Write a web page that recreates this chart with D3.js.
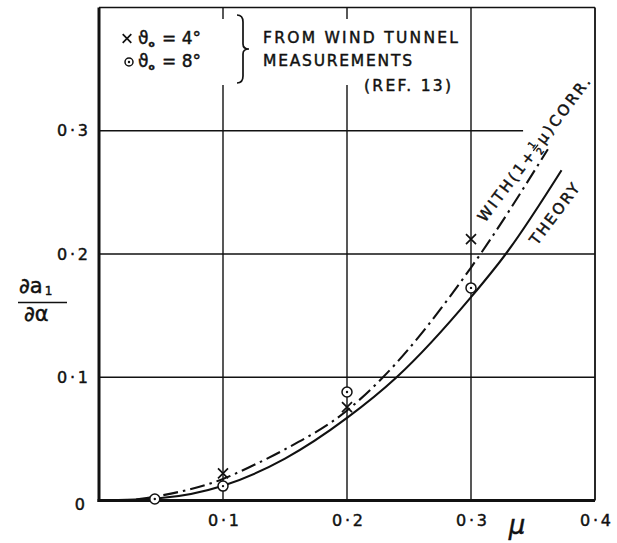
<!DOCTYPE html>
<html>
<head>
<meta charset="utf-8">
<script src="https://cdn.jsdelivr.net/npm/d3@7"></script>
<style>
  html, body { margin: 0; padding: 0; background: #fff; }
  svg { display: block; }
  text { font-family: "DejaVu Sans", sans-serif; fill: #111; stroke: #111; stroke-width: 0.45px; }
</style>
</head>
<body>
<script>
// ∂a1/∂α against μ: theory, theory with (1 + ½μ) correction, and wind tunnel points.
const muTheory  = [0, 0.05, 0.1, 0.15, 0.2, 0.24, 0.3, 0.328, 0.373];
const valTheory = [0, 0.002, 0.012, 0.034, 0.067, 0.1, 0.165, 0.2, 0.268];

const muCorr  = [0.03, 0.05, 0.1, 0.122, 0.149, 0.2, 0.229, 0.3, 0.362];
const valCorr = [0.0008, 0.004, 0.0175, 0.0274, 0.041, 0.073, 0.1, 0.189, 0.285];

// ϑ0 = 4° (crosses) and ϑ0 = 8° (circled dots)
const muCross4  = [0.1, 0.2, 0.3];
const valCross4 = [0.022, 0.0757, 0.212];
const muCircle8  = [0.045, 0.1, 0.2, 0.3];
const valCircle8 = [0.0012, 0.0117, 0.088, 0.1725];

const xTicks = [0.1, 0.2, 0.3, 0.4];
const yTicks = [0, 0.1, 0.2, 0.3];
const xGrid = [0.1, 0.2, 0.3];
const yGrid = [0.1, 0.2, 0.3];

const legendRows = ["4°", "8°"];
const sourceLines = ["FROM  WIND TUNNEL", "MEASUREMENTS", "(REF. 13)"];

const W = 617, H = 543;
const ink = "#111";

const svg = d3.select("body").append("svg").attr("width", W).attr("height", H);
svg.append("rect").attr("width", W).attr("height", H).attr("fill", "#fff");

const x = d3.scaleLinear().domain([0, 0.4]).range([99, 595]);
const y = d3.scaleLinear().domain([0, 0.4]).range([500.5, 7.5]);

const fmt = d => d === 0 ? "0" : d3.format(".1f")(d).replace(".", "·");

// grid
const grid = svg.append("g").attr("stroke", ink).attr("stroke-width", 1.4);
grid.selectAll("line.v").data(xGrid).join("line").attr("class", "v")
  .attr("x1", d => x(d)).attr("x2", d => x(d))
  .attr("y1", y(0)).attr("y2", y(0.4));
grid.selectAll("line.h").data(yGrid).join("line").attr("class", "h")
  .attr("x1", x(0))
  .attr("x2", d => x(d === 0.3 ? 0.342 : 0.4))
  .attr("y1", d => y(d)).attr("y2", d => y(d));

// frame
const frame = svg.append("g").attr("stroke", ink).attr("fill", "none");
frame.append("line").attr("x1", x(0)).attr("x2", x(0.4)).attr("y1", y(0.4)).attr("y2", y(0.4)).attr("stroke-width", 1.5);
frame.append("line").attr("x1", x(0.4)).attr("x2", x(0.4)).attr("y1", y(0.4)).attr("y2", y(0)).attr("stroke-width", 1.8);
frame.append("line").attr("x1", x(0)).attr("x2", x(0)).attr("y1", y(0.4)).attr("y2", y(0) + 1.5).attr("stroke-width", 3);
frame.append("line").attr("x1", x(0) - 1.5).attr("x2", x(0.4)).attr("y1", y(0)).attr("y2", y(0)).attr("stroke-width", 3);

// legend panel clears the grid behind the key
svg.append("rect").attr("x", 106).attr("y", 19).attr("width", 356).attr("height", 66).attr("fill", "#fff");

// marker shapes
function drawCross(sel, cx, cy, s) {
  sel.append("path")
    .attr("d", `M${cx - s},${cy - s}L${cx + s},${cy + s}M${cx + s},${cy - s}L${cx - s},${cy + s}`)
    .attr("stroke", ink).attr("stroke-width", 1.7).attr("fill", "none");
}
function drawCircleDot(sel, cx, cy, r) {
  sel.append("circle").attr("cx", cx).attr("cy", cy).attr("r", r)
    .attr("stroke", ink).attr("stroke-width", 1.5).attr("fill", "#fff");
  sel.append("circle").attr("cx", cx).attr("cy", cy).attr("r", 1.2).attr("fill", ink);
}

// curves
const line = d3.line().x(d => x(d[0])).y(d => y(d[1])).curve(d3.curveMonotoneX);
svg.append("path").datum(d3.zip(muTheory, valTheory)).attr("d", line)
  .attr("fill", "none").attr("stroke", ink).attr("stroke-width", 2.1);
svg.append("path").datum(d3.zip(muCorr, valCorr)).attr("d", line)
  .attr("fill", "none").attr("stroke", ink).attr("stroke-width", 2.1)
  .attr("stroke-dasharray", "15,5,2.5,5");

// points
const pts = svg.append("g");
d3.zip(muCircle8, valCircle8).forEach(([m, v]) => drawCircleDot(pts, x(m), y(v), 5));
d3.zip(muCross4, valCross4).forEach(([m, v]) => drawCross(pts, x(m), y(v), 5));

// axes
const yAxis = svg.append("g").attr("transform", `translate(${x(0)},0)`)
  .call(d3.axisLeft(y).tickValues(yTicks).tickFormat(fmt).tickSize(0).tickPadding(11));
const xAxis = svg.append("g").attr("transform", `translate(0,${y(0)})`)
  .call(d3.axisBottom(x).tickValues(xTicks).tickFormat(fmt).tickSize(0).tickPadding(14));
[yAxis, xAxis].forEach(a => {
  a.select(".domain").remove();
  a.selectAll("text").attr("font-family", "DejaVu Sans, sans-serif").attr("font-size", 16).attr("fill", ink)
    .each(function (d) {
      if (d !== 0) d3.select(this).attr("textLength", 31).attr("lengthAdjust", "spacing");
    });
});
yAxis.selectAll("text").filter(d => d === 0).attr("x", -14).attr("dy", "0.55em");

// axis titles
svg.append("text").attr("x", 517).attr("y", 534).attr("text-anchor", "middle")
  .attr("font-size", 26).attr("font-style", "italic").text("μ");

const yl = svg.append("g");
const num = yl.append("text").attr("x", 19).attr("y", 293).attr("font-size", 21);
num.append("tspan").text("∂a");
num.append("tspan").attr("font-size", 12).attr("dx", 2).attr("dy", 2).text("1");
yl.append("line").attr("x1", 18).attr("x2", 67).attr("y1", 302.5).attr("y2", 302.5)
  .attr("stroke", ink).attr("stroke-width", 1.7);
yl.append("text").attr("x", 24).attr("y", 321).attr("font-size", 21).text("∂α");

// key
const key = svg.append("g");
drawCross(key, 127, 38.5, 4.3);
drawCircleDot(key, 129, 62, 4);
legendRows.forEach((deg, i) => {
  const t = key.append("text").attr("x", 138).attr("y", 43.5 + i * 23).attr("font-size", 17);
  t.append("tspan").text("ϑ");
  t.append("tspan").attr("font-size", 9).attr("font-weight", "bold").attr("dy", 3).text("o");
  t.append("tspan").attr("dy", -3).attr("dx", 2).text(" = " + deg);
});
key.append("path")
  .attr("d", "M237,15 Q243,15 243,22 L243,44 Q243,49 249,49 Q243,49 243,54 L243,76 Q243,83 237,83")
  .attr("fill", "none").attr("stroke", ink).attr("stroke-width", 1.7);
const srcX = [263, 263, 364], srcY = [43, 66, 91], srcLen = [195, 149, 87];
sourceLines.forEach((s, i) => {
  key.append("text").attr("x", srcX[i]).attr("y", srcY[i]).attr("font-size", 15.5)
    .attr("textLength", srcLen[i]).attr("lengthAdjust", "spacing").text(s);
});

// curve labels
const corr = svg.append("g").attr("transform", "translate(485,223) rotate(-53)")
  .attr("font-size", 15).attr("letter-spacing", 2.7);
const c1 = corr.append("text").attr("x", 0).attr("y", 0).text("WITH(1+");
const w1 = c1.node().getComputedTextLength() + 1;
corr.append("text").attr("x", w1).attr("y", -6.5).attr("font-size", 9.5).attr("letter-spacing", 0).text("1");
corr.append("line").attr("x1", w1 - 1).attr("x2", w1 + 7).attr("y1", -4.8).attr("y2", -4.8)
  .attr("stroke", ink).attr("stroke-width", 1.2);
corr.append("text").attr("x", w1).attr("y", 4).attr("font-size", 9.5).attr("letter-spacing", 0).text("2");
corr.append("text").attr("x", w1 + 10).attr("y", 0).text("μ)CORR.");

svg.append("g").attr("transform", "translate(537,246) rotate(-53)")
  .append("text").attr("font-size", 15).attr("textLength", 72).attr("lengthAdjust", "spacing").text("THEORY");
</script>
</body>
</html>
